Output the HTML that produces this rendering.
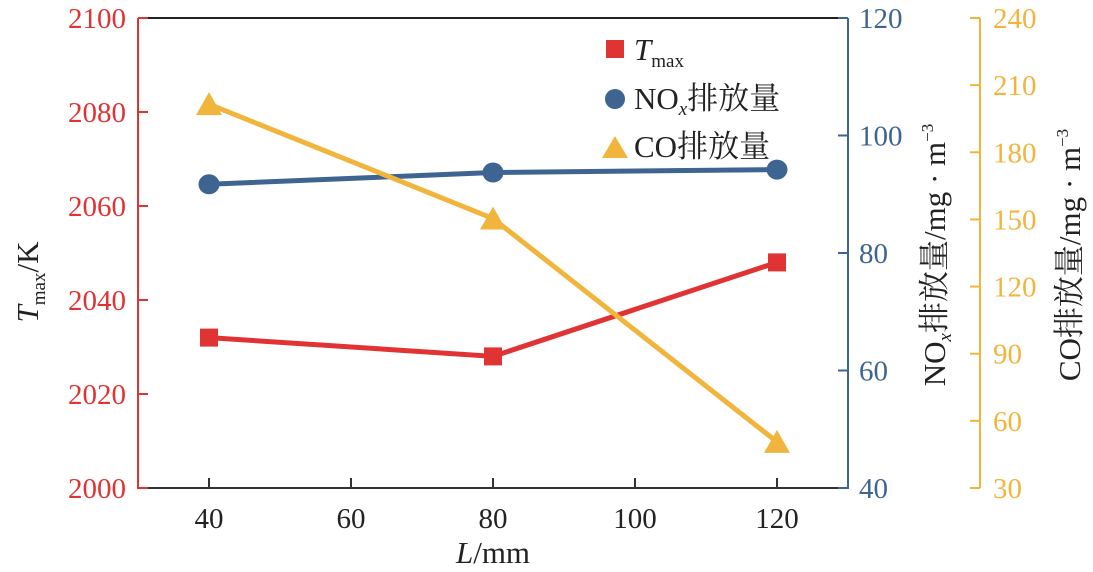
<!DOCTYPE html>
<html><head><meta charset="utf-8"><style>
body{margin:0;background:#fff}
svg{display:block;font-family:"Liberation Serif","Noto Serif CJK SC",serif}
</style></head><body>
<svg id="c" width="1093" height="572"></svg>
<script>
const categories=[40,80,120];
const tmaxValues=[2032,2028,2048];
const noxValues=[91.7,93.7,94.2];
const coValues=[201.5,150.4,50.6];
const xTicks=[40,60,80,100,120];
const tTicks=[2000,2020,2040,2060,2080,2100];
const noxTicks=[40,60,80,100,120];
const coTicks=[30,60,90,120,150,180,210,240];
const RED="#e03333",BLUE="#3e6592",YEL="#f1b53e";
const L=138,R=848,T=18,B=488,Y3=980;
const x=v=>L+(v-30)/100*(R-L);
const yT=v=>B-(v-2000)/100*(B-T);
const yN=v=>B-(v-40)/80*(B-T);
const yC=v=>B-(v-30)/210*(B-T);
const svg=document.getElementById('c');
const NS="http://www.w3.org/2000/svg";
function mk(tag,a,p){const e=document.createElementNS(NS,tag);for(const k in a)e.setAttribute(k,a[k]);(p||svg).appendChild(e);return e;}
let e;
e=mk('line',{x1:L,y1:T,x2:R,y2:T,stroke:'#222','stroke-width':2});


e=mk('line',{x1:L,y1:B,x2:R,y2:B,stroke:'#333','stroke-width':2});


e=mk('line',{x1:L,y1:T,x2:L,y2:B+1,stroke:RED,'stroke-width':2});


e=mk('line',{x1:R,y1:T,x2:R,y2:B+1,stroke:BLUE,'stroke-width':2});


e=mk('line',{x1:Y3,y1:T,x2:Y3,y2:B,stroke:YEL,'stroke-width':2});


xTicks.forEach(v=>{
 e=mk('line',{x1:x(v),y1:B,x2:x(v),y2:B-10,stroke:'#333','stroke-width':2});
 
 
 e=mk('text',{x:x(v),y:B+40,'text-anchor':'middle','font-size':29,fill:'#222'});e.textContent=v;
 
 
});
tTicks.forEach(v=>{
 e=mk('line',{x1:L,y1:yT(v),x2:L+10,y2:yT(v),stroke:RED,'stroke-width':2});
 
 
 e=mk('text',{x:L-12,y:yT(v)+10,'text-anchor':'end','font-size':29,fill:RED});e.textContent=v;
 
 
});
noxTicks.forEach(v=>{
 e=mk('line',{x1:R,y1:yN(v),x2:R-10,y2:yN(v),stroke:BLUE,'stroke-width':2});
 
 
 e=mk('text',{x:R+11,y:yN(v)+10,'font-size':29,fill:BLUE});e.textContent=v;
 
 
});
coTicks.forEach(v=>{
 e=mk('line',{x1:Y3,y1:yC(v),x2:Y3-10,y2:yC(v),stroke:YEL,'stroke-width':2});
 
 
 e=mk('text',{x:Y3+13,y:yC(v)+10,'font-size':29,fill:YEL});e.textContent=v;
 
 
});
function line(vals,yf,col,name){
 e=mk('polyline',{points:vals.map((v,i)=>x(categories[i])+','+yf(v)).join(' '),fill:'none',stroke:col,'stroke-width':5});
 
 
}
line(noxValues,yN,BLUE,'nox-line');
line(tmaxValues,yT,RED,'tmax-line');
line(coValues,yC,YEL,'co-line');
tmaxValues.forEach((v,i)=>{
 e=mk('rect',{x:x(categories[i])-9,y:yT(v)-9,width:18,height:18,fill:RED});
 
 
});
noxValues.forEach((v,i)=>{
 e=mk('ellipse',{cx:x(categories[i]),cy:yN(v),rx:10.5,ry:10,fill:BLUE});
 
 
});
coValues.forEach((v,i)=>{
 const cx=x(categories[i]),cy=yC(v);
 e=mk('polygon',{points:`${cx-13},${cy+11} ${cx+13},${cy+11} ${cx},${cy-12}`,fill:YEL});
 
 
});
</script>
<svg style="position:absolute;left:0;top:0" width="1093" height="572">
 <g font-family="Liberation Serif, Noto Serif CJK SC, serif" fill="#222">
  <g>
   <rect x="606" y="40" width="18" height="18" fill="#e03333"/>
   <text x="634" y="60" font-size="31"><tspan font-style="italic">T</tspan><tspan font-size="19" dy="7">max</tspan></text>
   <ellipse cx="615" cy="99" rx="10" ry="10" fill="#3e6592"/>
   <text x="634" y="109" font-size="31">NO<tspan font-size="19" font-style="italic" dy="6">x</tspan><tspan dy="-6">排放量</tspan></text>
   <polygon points="602,158 628,158 615,136" fill="#f1b53e"/>
   <text x="634" y="157" font-size="31">CO排放量</text>
  </g>
  <text x="493" y="563" font-size="31" text-anchor="middle"><tspan font-style="italic">L</tspan>/mm</text>
  <text transform="translate(38,282) rotate(-90)" font-size="31" text-anchor="middle"><tspan font-style="italic">T</tspan><tspan font-size="19" dy="7">max</tspan><tspan dy="-7">/K</tspan></text>
  <text transform="translate(945,255) rotate(-90)" font-size="31" text-anchor="middle">NO<tspan font-size="19" font-style="italic" dy="6">x</tspan><tspan dy="-6">排放量/mg · m</tspan><tspan font-size="17" dy="-12">−3</tspan></text>
  <text transform="translate(1080,255) rotate(-90)" font-size="31" text-anchor="middle">CO排放量/mg · m<tspan font-size="17" dy="-12">−3</tspan></text>
 </g>
</svg>
</body></html>
